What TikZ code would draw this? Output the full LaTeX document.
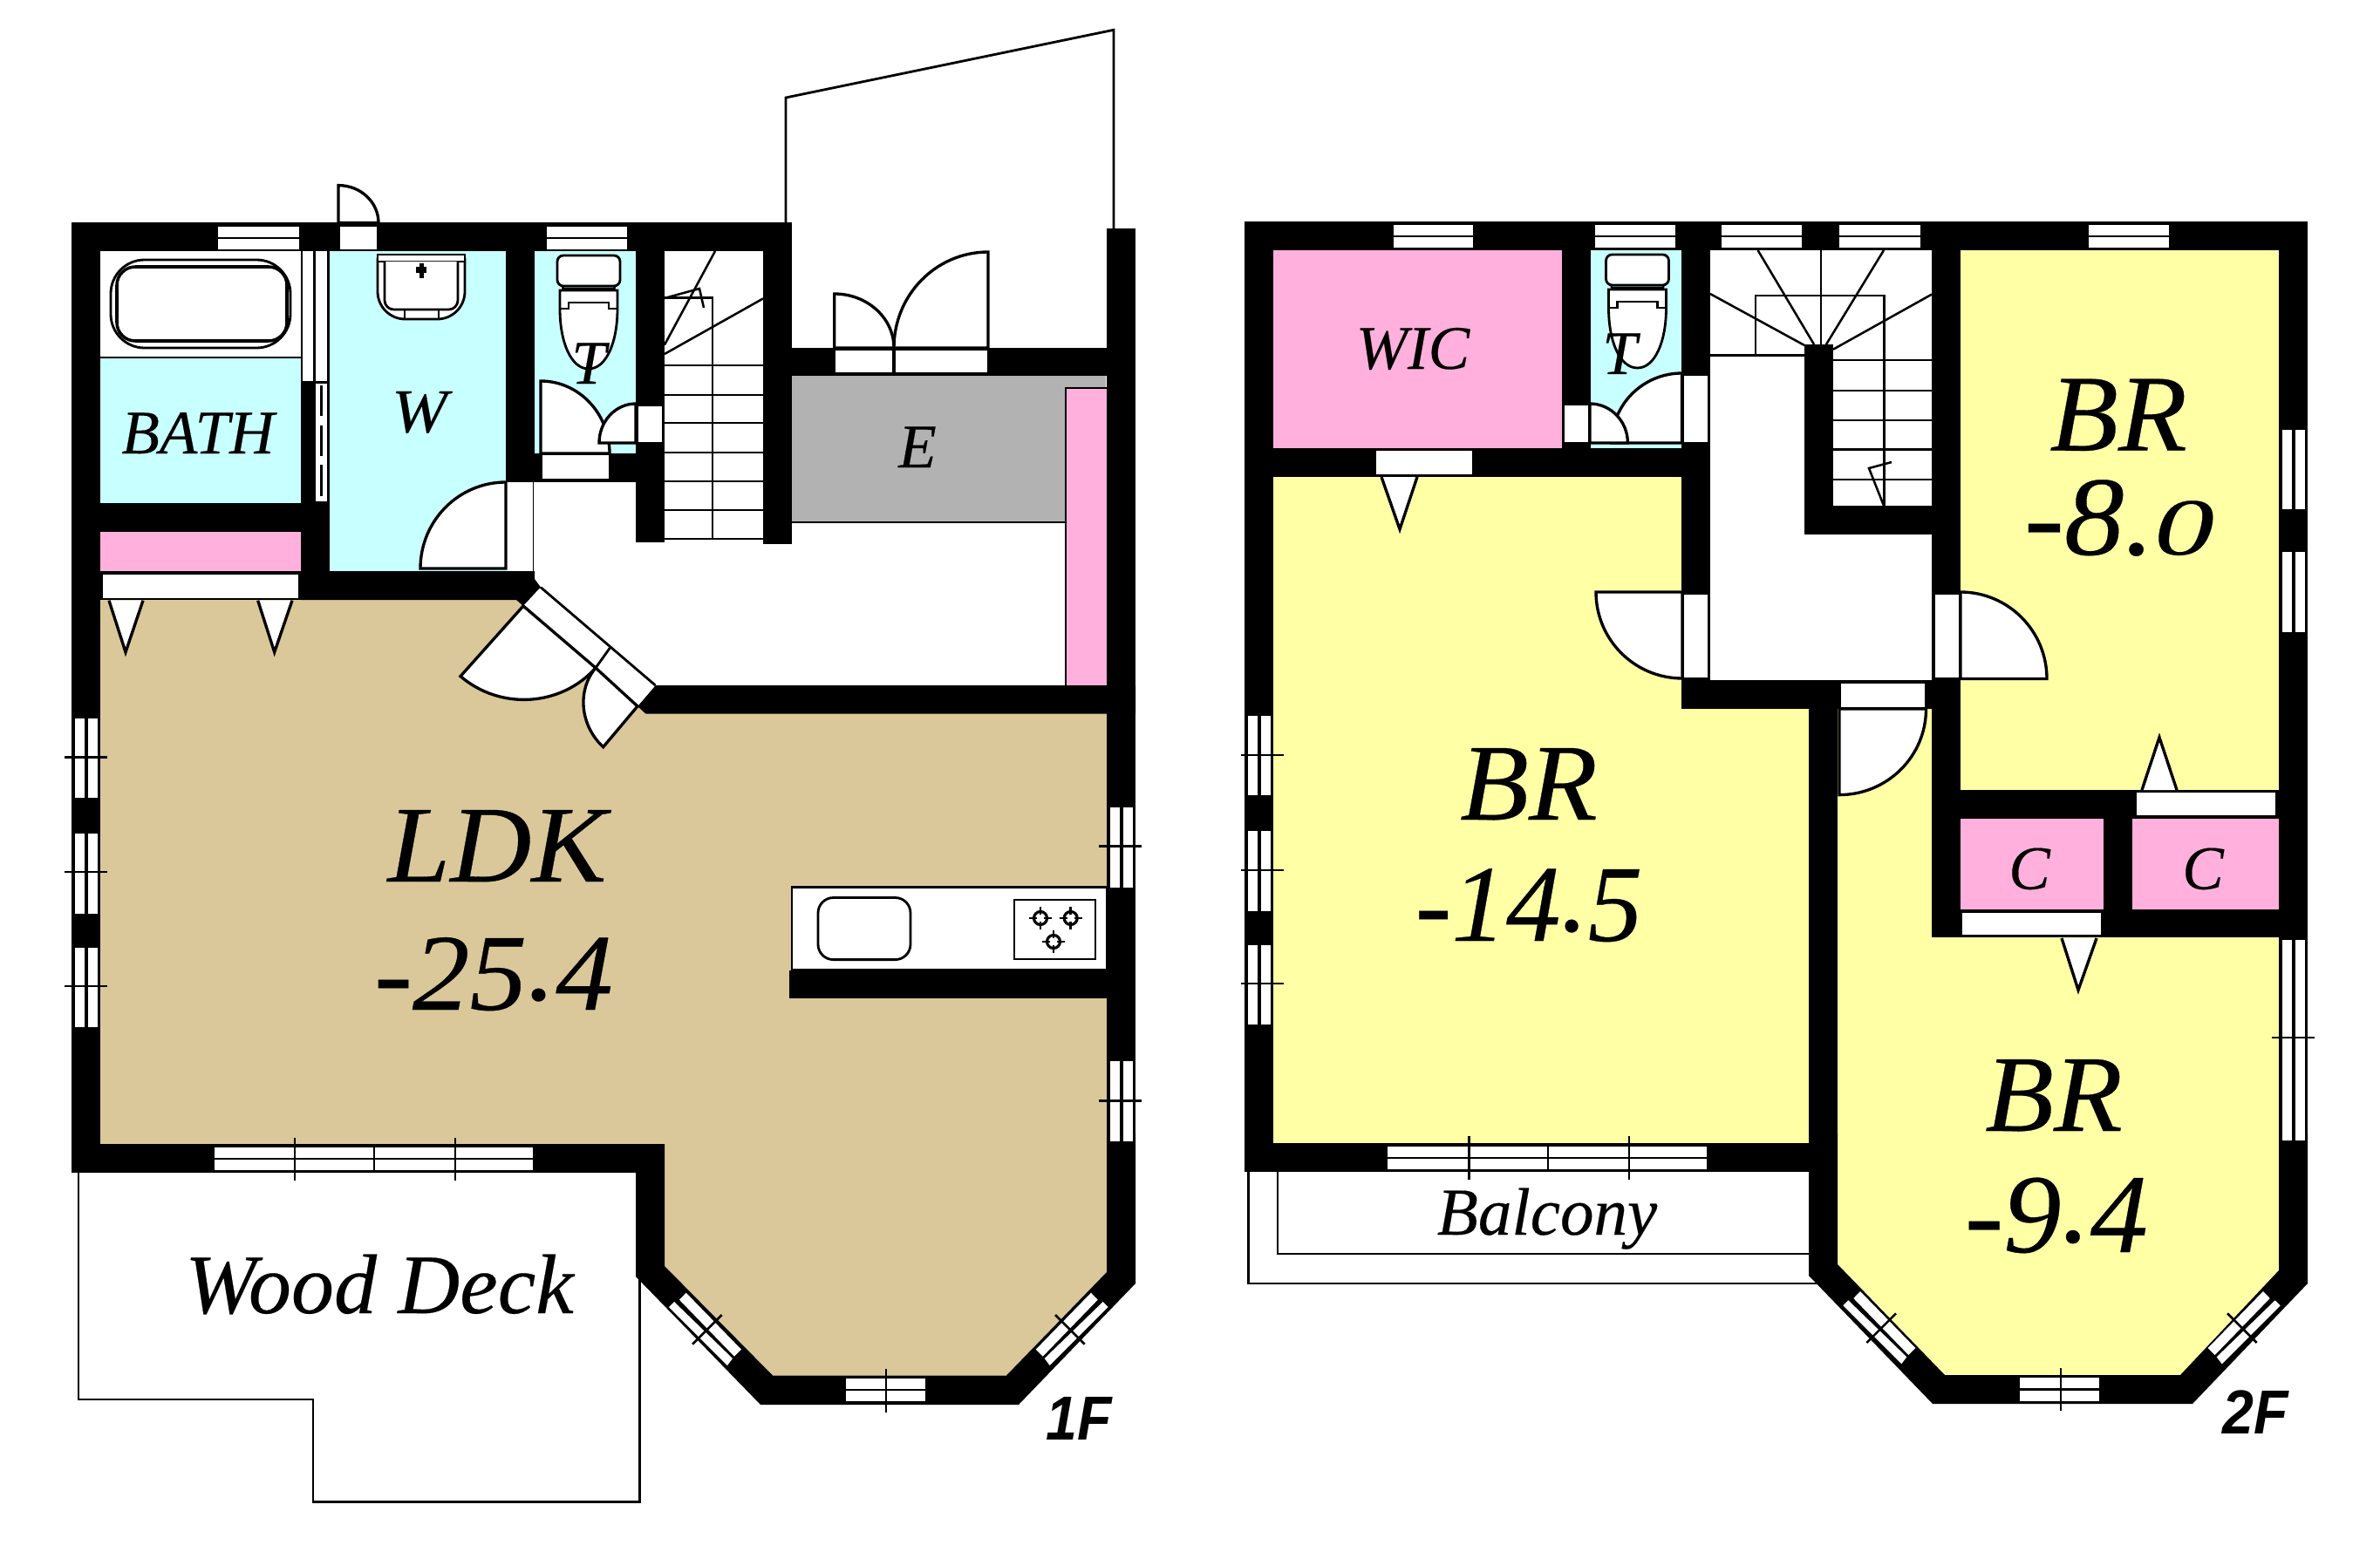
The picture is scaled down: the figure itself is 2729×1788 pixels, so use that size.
\documentclass[tikz,border=0pt]{standalone}
\usepackage{fontspec}
\setmainfont{Liberation Serif}[ItalicFeatures={FakeBold=0.25}]
\setsansfont{Liberation Sans}
\definecolor{cyanroom}{HTML}{C8FFFF}
\definecolor{pinkroom}{HTML}{FFB0DC}
\definecolor{yellowroom}{HTML}{FFFFA6}
\definecolor{beigeroom}{HTML}{DAC89A}
\definecolor{grayroom}{HTML}{B2B2B2}
\tikzset{
  ln/.style={line width=0.8pt,draw=black},
  thinl/.style={line width=0.72pt,draw=black},
  wall/.style={fill=black,draw=none},
  gap/.style={fill=white,draw=none},
  leaf/.style={fill=white,draw=black,line width=0.95pt,line join=miter},
  roomL/.style={inner sep=0pt,anchor=base,font=\fontsize{35.6}{40}\selectfont\itshape},
  roomM/.style={inner sep=0pt,anchor=base,font=\fontsize{27.6}{32}\selectfont\itshape},
  roomB/.style={inner sep=0pt,anchor=base,font=\fontsize{21.9}{26}\selectfont\itshape},
  roomS/.style={inner sep=0pt,anchor=base,font=\fontsize{20.2}{24}\selectfont\itshape},
  floorlab/.style={inner sep=0pt,anchor=base,font=\fontsize{19.5}{24}\selectfont\sffamily\bfseries\itshape},
}
\newcommand{\rdot}{\raisebox{0.09em}{.}}
% hinge, A, B
\newcommand{\doorleaf}[6]{%
  \path[leaf] (#1,#2) -- (#3,#4) .. controls ({#3+.5523*(#5-#1)},{#4+.5523*(#6-#2)}) and ({#5+.5523*(#3-#1)},{#6+.5523*(#4-#2)}) .. (#5,#6) -- cycle;}
\newcommand{\hwin}[4]{% x1 x2 y1 y2
  \fill[white] (#1,#3) rectangle (#2,{(#3+#4)/2-1.2});
  \fill[white] (#1,{(#3+#4)/2+1.2}) rectangle (#2,#4);}
\newcommand{\vwin}[4]{% x1 x2 y1 y2
  \fill[white] (#1,#3) rectangle ({(#1+#2)/2-1.8},#4);
  \fill[white] ({(#1+#2)/2+1.8},#3) rectangle (#2,#4);}
\newcommand{\toilet}[2]{% centre x, tank top y
  \begin{scope}[shift={(#1,#2)}]
    \path[ln,fill=white,rounded corners=2] (-36,0) rectangle (36,35);
    \draw[thinl] (-30,35) -- (-29,40) (30,35) -- (29,40) (-29,38) -- (29,38);
    \path[ln,fill=white] (-33,40) -- (33,40) -- (33,61) .. controls (33,100) and (20,130) .. (0,130) .. controls (-20,130) and (-33,100) .. (-33,61) -- cycle;
    \draw[ln] (-33,61) -- (-23,61) -- (-23,54) -- (23,54) -- (23,61) -- (33,61);
  \end{scope}}
\newcommand{\burner}[2]{%
  \begin{scope}[shift={(#1,#2)}]
    \draw[line width=0.9pt] (0,0) circle (7.5);
    \draw[line width=0.7pt] (-13,0) -- (-4,0) (4,0) -- (13,0) (0,-13) -- (0,-4) (0,4) -- (0,13);
  \end{scope}}
\newcommand{\diagwin}[3]{% ox oy s
  \begin{scope}[shift={(#1,#2)},xscale=#3]
    \fill[white] (0,0) -- (-7.7,8) -- (55.3,73) -- (63.3,65) -- cycle;
    \fill[white] (-13.7,10.3) -- (-19.7,16.3) -- (47.3,83.3) -- (53.3,75.3) -- cycle;
    \draw[thinl] (41,25.3) -- (7.3,59);
  \end{scope}}
\begin{document}
\begin{tikzpicture}[x=0.01cm,y=-0.01cm]
\useasboundingbox (0,0) rectangle (2729,1788);
\fill[white] (0,0) rectangle (2729,1788);

%% ============ 1F rooms
\fill[cyanroom] (115,411) rectangle (345,577);
\fill[cyanroom] (377,288) rectangle (580,655);
\fill[cyanroom] (613,288) rectangle (729,520);
\fill[pinkroom] (115,610) rectangle (345,655);
\fill[grayroom] (908,431) rectangle (1268,599);
\fill[beigeroom] (115,688) -- (600,688) -- (740,818) -- (1269,818) -- (1269,1459) -- (1154,1577.5) -- (886,1577.5) -- (762,1452) -- (762,1312) -- (115,1312) -- cycle;

%% outlines outside
\draw[ln] (901,256) -- (901,112) -- (1277,34.3) -- (1277,263);
\draw[ln] (90,1345) -- (90,1605) -- (359,1605) -- (359,1722.5) -- (733.5,1722.5) -- (733.5,1466);

%% walls 1F
\fill[wall] (82,255) rectangle (908,288);
\fill[wall] (82,255) rectangle (115,1345);
\fill[wall] (82,1312) rectangle (762,1345);
\fill[wall] (729,1312) -- (762,1312) -- (762,1452) -- (886,1577.5) -- (1154,1577.5) -- (1269,1459) -- (1269,1300) -- (1302,1300) -- (1302,1472) -- (1168,1611) -- (872,1611) -- (729,1464) -- cycle;
\fill[wall] (1268.5,262) rectangle (1302,1472);
\fill[wall] (908,399) rectangle (1268.5,431);
\fill[wall] (580,255) rectangle (613,553);
\fill[wall] (580,520) rectangle (762,553);
\fill[wall] (729,255) rectangle (762,622);
\fill[wall] (875,255) rectangle (908,624);
\fill[wall] (82,577) rectangle (378,610);
\fill[wall] (345,288) rectangle (378,688);
\fill[wall] (115,655) rectangle (345,688);
\fill[wall] (345,655) -- (613,655) -- (613,664) -- (620,673.6) -- (600,695) -- (592,688) -- (345,688) -- cycle;
\fill[wall] (751.5,786) -- (1302,786) -- (1302,818.7) -- (740.5,818.7) -- (731,810) -- cycle;
\fill[wall] (905,1112.5) rectangle (1302,1145);

%% partition bath / W
\fill[white] (347,288) rectangle (359,437);
\fill[white] (362,288) rectangle (375.4,437);
\fill[white] (362,440) rectangle (375.4,575);
\draw[thinl,dash pattern=on 10pt off 3pt] (368.5,442) -- (368.5,572);

%% windows 1F
\hwin{250}{342.5}{259.6}{286}
\hwin{627}{719}{259.6}{286}
\hwin{246}{611}{1316}{1342}
\hwin{970}{1061}{1581}{1607}
\vwin{85.7}{112}{824}{915}
\vwin{85.7}{112}{956}{1047.7}
\vwin{85.7}{112}{1086.7}{1178}
\vwin{1272.5}{1299}{925.5}{1017.6}
\vwin{1272.5}{1299}{1217}{1309}
\diagwin{786.7}{1482.7}{1}
\diagwin{1251}{1482.7}{-1}
\draw[thinl] (74,868.3) -- (123,868.3) (74,1000) -- (123,1000) (74,1131) -- (123,1131);
\draw[thinl] (1260,970.6) -- (1309,970.6) (1260,1262.5) -- (1309,1262.5);
\draw[thinl] (338,1305) -- (338,1353.6) (522,1305) -- (522,1353.6);
\draw[thinl] (429,1316) -- (429,1342);
\draw[thinl] (1016,1570) -- (1016,1620);

%% door openings 1F
\fill[gap] (390,259.6) rectangle (432,286);
\draw[line width=0.5pt] (611.5,553) -- (611.5,655);
\fill[gap] (581,555) rectangle (610,650);
\fill[gap] (622,522) rectangle (698,549);
\fill[gap] (732,466) rectangle (759,506.5);
\fill[gap] (958,401.6) rectangle (1023,427);
\fill[gap] (1027,401.6) rectangle (1131.7,427);
\fill[gap] (117.7,659) rectangle (341.7,685.7);
\path[gap] (620,673.6) -- (751.5,786) -- (731,810) -- (600,695) -- cycle;
\draw[ln] (620,673.6) -- (751.5,786) (600,695) -- (731,810);

%% stairs 1F
\draw[thinl] (762,419) -- (875,419) (762,453) -- (875,453) (762,485) -- (875,485) (762,519) -- (875,519) (762,552) -- (875,552) (762,585) -- (875,585) (762,618) -- (875,618);
\draw[thinl] (762,341.6) -- (817,341.6) -- (817,618);
\draw[thinl] (762,395.5) -- (820,288);
\draw[thinl] (762,406) -- (875,342.4);
\draw[thinl] (762,342) -- (802,331) -- (807,353);

%% fixtures 1F
\draw[ln] (115,410) -- (345,410);
\path[ln,fill=white,rounded corners=11] (127,298) rectangle (333,399);
\path[line width=1pt,draw=black,fill=white,rounded corners=6] (134,306) rectangle (329,391);
% basin
\path[ln,fill=white,rounded corners=9] (433,296) -- (433,366) -- (533,366) -- (533,296);
\path[ln,fill=white] (433,292) rectangle (533,300);
\path[ln,fill=white,rounded corners=3] (441,300) -- (441,355) -- (525,355) -- (525,300);
\draw[ln] (464,355) -- (464,366) (503,355) -- (503,366);
\fill (477,306) rectangle (489,313);
\fill (480.5,302) rectangle (485.5,319);
\toilet{675}{293}
% kitchen
\path[ln,fill=white] (908,1112.5) -- (908,1017.6) -- (1269,1017.6) -- (1269,1112.5) -- cycle;
\path[ln,fill=white,rounded corners=5] (938,1029.5) rectangle (1044,1100.6);
\path[ln,fill=white] (1163,1032) rectangle (1256,1100);
\burner{1193}{1053}\burner{1227.7}{1053}\burner{1208}{1080}
% entrance storage
\draw[ln] (908,599) -- (1222,599);
\path[fill=pinkroom] (1222.5,445) rectangle (1268.7,786);
\draw[ln] (1222,786) -- (1222,445) -- (1268.5,445);

%% doors 1F
\doorleaf{388}{255.5}{388}{212.6}{434}{255.5}
\doorleaf{580}{652}{580}{553}{482}{652}
\doorleaf{620}{520}{620}{437}{699}{520}
\doorleaf{729}{508}{729}{463}{687}{508}
\draw[ln] (956.7,399) -- (1133,399);
\doorleaf{956.7}{399}{956.7}{337}{1025}{399}
\doorleaf{1133}{399}{1133}{289}{1025}{399}
\draw[line width=1.2pt] (1025,399) -- (1025,428);
\doorleaf{600}{695}{528}{775.6}{683}{766}
\doorleaf{731}{810}{691.7}{856.7}{683}{766}
\draw[ln] (699.4,743) -- (683,766);
\path[leaf] (125,688.7) -- (144,748) -- (164,688.7);
\path[leaf] (295.7,688.7) -- (314.7,748) -- (335,688.7);

%% labels 1F
\node[roomS] (lbath) at (227,520) {BATH};
\node[roomS] (lw) at (481,495.5) {\scalebox{1.08}[1]{W}};
\node[roomS] (lt1) at (675,440) {T};
\node[roomS] (le) at (1052,536) {E};
\node[roomL] (lldk) at (570,1011) {\scalebox{1.03}[1]{LDK}};
\node[roomL] (lldka) at (566,1158) {\scalebox{1.05}[1]{-25\rdot4}};
\node[roomM] (lwood) at (435,1506) {\scalebox{1.01}[1]{Wood Deck}};
\node[floorlab] (l1f) at (1237,1651) {\scalebox{.94}[1.04]{1F}};

%% ============ 2F rooms
\fill[pinkroom] (1460,287) rectangle (1791,514);
\fill[cyanroom] (1824,287) rectangle (1928,514);
\fill[yellowroom] (1460,547) -- (1928,547) -- (1928,813) -- (2074,813) -- (2074,1311) -- (1460,1311) -- cycle;
\fill[yellowroom] (2107,813) -- (2215,813) -- (2215,1075) -- (2613,1075) -- (2613,1457) -- (2500,1577) -- (2230,1577) -- (2107,1450) -- cycle;
\fill[yellowroom] (2248,287) rectangle (2613,906);
\fill[pinkroom] (2248,938.6) rectangle (2411.6,1042.5);
\fill[pinkroom] (2445,938.6) rectangle (2613,1042.5);

%% balcony
\draw[ln] (1465,1344) -- (1465,1438) -- (2074,1438);
\draw[ln] (1431.4,1344) -- (1431.4,1472) -- (2085,1472);

%% walls 2F
\fill[wall] (1427,254) rectangle (2646,287);
\fill[wall] (1427,254) rectangle (1460,1344);
\fill[wall] (1427,1311) rectangle (2107,1344);
\fill[wall] (1791,254) rectangle (1824,547);
\fill[wall] (1427,514) rectangle (1961,547);
\fill[wall] (1928,254) rectangle (1961,813);
\fill[wall] (1928,780) rectangle (2248,813);
\fill[wall] (2074,780) rectangle (2107,1463);
\fill[wall] (2074,1300) -- (2107,1300) -- (2107,1450) -- (2230,1577) -- (2500,1577) -- (2613,1457) -- (2613,1300) -- (2646,1300) -- (2646,1472) -- (2514,1610) -- (2216,1610) -- (2074,1463) -- cycle;
\fill[wall] (2613,254) rectangle (2646,1472);
\fill[wall] (2215,254) rectangle (2248,1075);
\fill[wall] (2215,906) rectangle (2613,938.6);
\fill[wall] (2215,1042.5) rectangle (2646,1075);
\fill[wall] (2411.6,906) rectangle (2445,1075);
\fill[wall] (2069,395) rectangle (2102,613);
\fill[wall] (2069,580) rectangle (2215,613);

%% windows 2F
\hwin{1597.5}{1688.6}{258}{284}
\hwin{1829}{1921}{258}{284}
\hwin{1973.5}{2065.6}{258}{284}
\hwin{2109}{2202}{258}{284}
\hwin{2395}{2486.6}{258}{284}
\hwin{1591}{1957}{1315}{1341}
\hwin{2315.5}{2407}{1580}{1607}
\vwin{1431}{1457}{821}{912}
\vwin{1431}{1457}{953}{1045}
\vwin{1431}{1457}{1084}{1175}
\vwin{2616.7}{2642.7}{492.6}{584.4}
\vwin{2616.7}{2642.7}{633}{725}
\vwin{2616.7}{2642.7}{1077.7}{1307.7}
\diagwin{2133}{1481}{1}
\diagwin{2595}{1481}{-1}
\draw[thinl] (1423,866) -- (1472,866) (1423,998) -- (1472,998) (1423,1128) -- (1472,1128);
\draw[thinl] (2605,1190) -- (2654,1190);
\draw[thinl] (1684.5,1303) -- (1684.5,1353) (1868,1303) -- (1868,1353);
\draw[thinl] (1775,1315) -- (1775,1341);
\draw[thinl] (2363,1569) -- (2363,1618);

%% door openings 2F
\fill[gap] (1578,517) rectangle (1688,544);
\fill[gap] (1794,465) rectangle (1821,507);
\fill[gap] (1931,431) rectangle (1958,507);
\fill[gap] (1931,681.7) rectangle (1958,776.7);
\fill[gap] (2219,682) rectangle (2245.5,777);
\fill[gap] (2110.7,784) rectangle (2206.7,811);
\fill[gap] (2450,909) rectangle (2609,934.6);
\fill[gap] (2250,1046.6) rectangle (2409,1072);

%% stairs 2F
\draw[thinl] (2102,413) -- (2215,413) (2102,448) -- (2215,448) (2102,482) -- (2215,482) (2102,515.5) -- (2215,515.5) (2102,550) -- (2215,550);
\draw[thinl] (1961,407.6) -- (2069,407.6);
\draw[thinl] (2013,407.6) -- (2013,339) -- (2160.7,339) -- (2160.7,580);
\draw[thinl] (2088,287) -- (2088,395);
\draw[thinl] (2015.6,287) -- (2080,395);
\draw[thinl] (2160,287) -- (2094,395);
\draw[thinl] (2215,337.6) -- (2102,400.7);
\draw[thinl] (1961,337) -- (2069,396);
\draw[thinl] (2169,530) -- (2143,537) -- (2160,580);

%% fixtures 2F
\toilet{1877.5}{292}

%% doors 2F
\doorleaf{1928.6}{508}{1928.6}{428}{1848}{508}
\doorleaf{1823}{508}{1823}{463}{1866.4}{508}
\doorleaf{1929}{679}{1830}{679}{1929}{778}
\doorleaf{2248}{778.5}{2248}{679}{2347}{778.5}
\doorleaf{2109}{813}{2109}{911.6}{2208.5}{813}
\path[leaf] (1584,547) -- (1605,607) -- (1625,547);
\path[leaf] (2456,906) -- (2476,845.6) -- (2496,906);
\path[leaf] (2364,1076) -- (2383,1135.5) -- (2404,1076);

%% labels 2F
\node[roomS] (lwic) at (1620,423) {WIC};
\node[roomS] (lt2) at (1857,429) {T};
\node[roomL] (lbr8) at (2429,516.7) {\scalebox{1.03}[1]{BR}};
\node[roomL] (lbr8a) at (2430,636) {\scalebox{1.1}[1.03]{-8.\scalebox{1}[0.72]{0}}};
\node[roomL] (lbr14) at (1753,940) {\scalebox{1.03}[1]{BR}};
\node[roomL] (lbr14a) at (1753,1079) {-14\rdot5};
\node[roomL] (lbr9) at (2355,1297) {\scalebox{1.03}[1]{BR}};
\node[roomL] (lbr9a) at (2358,1436) {\scalebox{1.06}[1.03]{-9\rdot4}};
\node[roomS] (lc1) at (2327,1019.6) {C};
\node[roomS] (lc2) at (2526,1019.6) {C};
\node[roomB] (lbalc) at (1774,1416) {Balcony};
\node[floorlab] (l2f) at (2586,1644) {\scalebox{.94}[1.04]{2F}};
\end{tikzpicture}
\end{document}
